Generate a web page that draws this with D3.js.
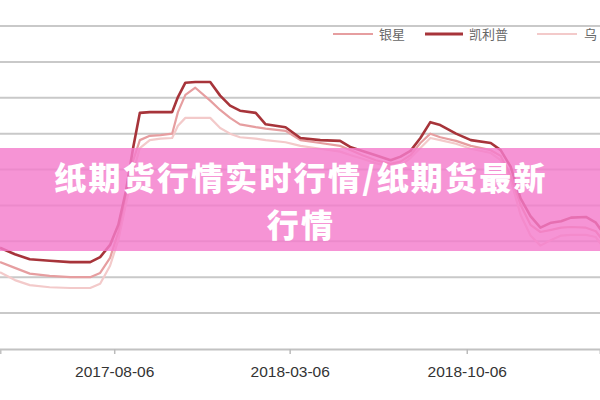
<!DOCTYPE html>
<html><head><meta charset="utf-8">
<script src="https://cdn.jsdelivr.net/npm/d3@7/dist/d3.min.js"></script>
<style>html,body{margin:0;padding:0;background:#fff;overflow:hidden}svg{display:block}</style>
</head><body>
<svg id="c" width="600" height="400"></svg>
<script>
const dates = ["2017-03-21","2017-04-08","2017-04-26","2017-05-20","2017-06-14","2017-07-08","2017-07-20","2017-08-01","2017-08-11","2017-08-20","2017-08-29","2017-09-06","2017-09-18","2017-10-01","2017-10-15","2017-10-22","2017-10-31","2017-11-12","2017-11-30","2017-12-12","2017-12-24","2018-01-05","2018-01-24","2018-02-05","2018-03-01","2018-03-19","2018-04-12","2018-05-06","2018-05-19","2018-06-02","2018-06-18","2018-07-06","2018-07-18","2018-07-30","2018-08-11","2018-08-23","2018-09-04","2018-09-23","2018-10-11","2018-11-04","2018-11-16","2018-11-28","2018-12-10","2018-12-22","2019-01-03","2019-01-16","2019-01-28","2019-02-09","2019-02-27","2019-03-11","2019-03-17"];
const kailipu = [5910,5820,5750,5730,5710,5710,5780,5950,6230,6690,7310,7790,7800,7800,7800,8010,8210,8220,8220,8030,7890,7820,7790,7630,7590,7440,7410,7400,7310,7260,7200,7130,7180,7260,7440,7660,7620,7500,7410,7370,7270,7040,6600,6350,6190,6260,6280,6330,6340,6260,6160];
const yinxing = [5710,5630,5550,5520,5500,5500,5560,5770,6130,6650,7130,7410,7470,7480,7500,7800,8040,8140,7960,7830,7720,7630,7590,7570,7540,7410,7370,7330,7270,7200,7130,7080,7110,7200,7370,7500,7450,7400,7330,7270,7190,6920,6510,6230,6130,6160,6190,6200,6190,6140,6050];
const wu = [5570,5460,5390,5360,5350,5350,5410,5660,6020,6510,6970,7300,7410,7430,7440,7610,7720,7720,7720,7580,7500,7450,7430,7410,7380,7330,7290,7250,7200,7150,7090,7040,7060,7160,7300,7440,7410,7360,7290,7230,7130,6860,6370,6080,5940,6020,6080,6090,6090,6060,5960];
const seriesNames = ["银星","凯利普","乌"];
const tickDates = ["2017-08-06","2018-03-06","2018-10-06"];
const yTicks = [4500,5000,5500,6000,6500,7000,7500,8000,8500,9000];
const titleLines = ["纸期货行情实时行情/纸期货最新","行情"];

const parse = d3.timeParse("%Y-%m-%d");
const svg = d3.select("#c");
const x = d3.scaleTime().domain([parse("2017-03-21"), parse("2019-03-16")]).range([0, 600]);
const y = d3.scaleLinear().domain([4500, 9000]).range([349, 26]);

// gridlines
svg.append("g").selectAll("line").data(yTicks.slice(1)).join("line")
  .attr("x1", 0).attr("x2", 600)
  .attr("y1", d => y(d)).attr("y2", d => y(d))
  .attr("stroke", "#c9c9c9").attr("stroke-width", 2);

// x axis
const xAxis = d3.axisBottom(x).tickValues(tickDates.map(parse))
  .tickFormat(d3.timeFormat("%Y-%m-%d")).tickSize(5).tickPadding(12);
const gx = svg.append("g").attr("transform", `translate(0,${y(4500)})`).call(xAxis);
gx.select(".domain").attr("stroke", "#c2c2c2").attr("stroke-width", 2);
gx.selectAll(".tick line").attr("stroke", "#bbb").attr("stroke-width", 1.5);
gx.selectAll(".tick text").attr("fill", "#333")
  .style("font-family", "'Liberation Sans', Arial, sans-serif").style("font-size", "15.5px");

const mk = arr => dates.slice(0, Math.min(dates.length, arr.length)).map((d, i) => ({d: parse(d), v: arr[i]}));
const line = d3.line().x(p => x(p.d)).y(p => y(p.v));

const series = [
  {name: seriesNames[2], data: mk(wu), color: "#f3caca", w: 2.2},
  {name: seriesNames[0], data: mk(yinxing), color: "#e69ea0", w: 2.2},
  {name: seriesNames[1], data: mk(kailipu), color: "#a7343a", w: 2.6}
];
svg.append("g").selectAll("path").data(series).join("path")
  .attr("d", s => line(s.data)).attr("fill", "none")
  .attr("stroke", s => s.color).attr("stroke-width", s => s.w)
  .attr("stroke-linejoin", "round");

// legend
const legend = [
  {name: seriesNames[0], color: "#e69ea0", w: 2, x1: 333, x2: 373, tx: 379},
  {name: seriesNames[1], color: "#a7343a", w: 3, x1: 425, x2: 463, tx: 469},
  {name: seriesNames[2], color: "#f3caca", w: 2, x1: 537, x2: 577, tx: 584}
];
const lg = svg.append("g");
lg.selectAll("line").data(legend).join("line")
  .attr("x1", d => d.x1).attr("x2", d => d.x2).attr("y1", 34).attr("y2", 34)
  .attr("stroke", d => d.color).attr("stroke-width", d => d.w);
lg.selectAll("text").data(legend).join("text")
  .attr("x", d => d.tx).attr("y", 39).text(d => d.name)
  .attr("fill", "#666").style("font-family", "'Noto Sans CJK SC', sans-serif").style("font-size", "13px");

// banner overlay
svg.append("rect").attr("x", 0).attr("y", 148).attr("width", 600).attr("height", 103)
  .attr("fill", "rgb(244,124,204)").attr("opacity", 0.82);
svg.append("g").selectAll("text").data(titleLines).join("text")
  .attr("x", 301).attr("y", (d, i) => 190 + i * 47)
  .attr("text-anchor", "middle").attr("fill", "#fff")
  .style("font-family", "'Noto Sans CJK SC', sans-serif").style("font-weight", 900)
  .style("font-size", "32px").style("letter-spacing", "2.2px").text(d => d);
</script>
</body></html>
